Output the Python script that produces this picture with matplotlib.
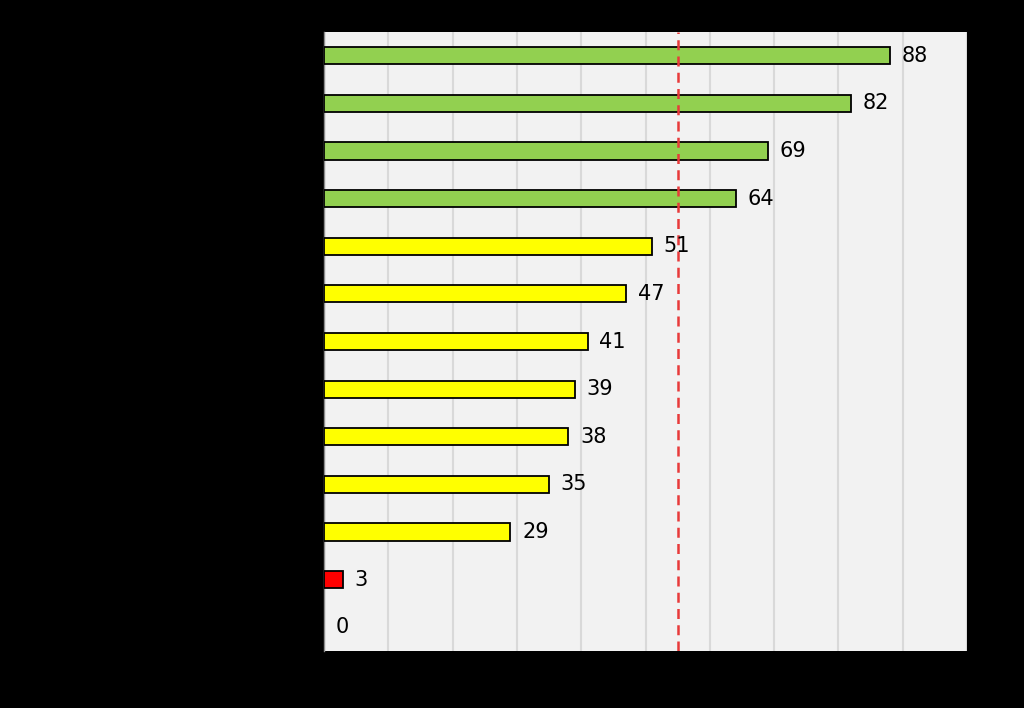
import matplotlib.pyplot as plt
import numpy as np

values = [88, 82, 69, 64, 51, 47, 41, 39, 38, 35, 29, 3, 0]
colors = ['#92d050'] * 4 + ['#ffff00'] * 7 + ['#ff0000'] * 2
threshold = 55

fig = plt.figure(figsize=(10.24, 7.08), dpi=100)
fig.patch.set_facecolor('black')
ax = fig.add_axes([324 / 1024, 1 - 651 / 708, (967 - 324) / 1024, (651 - 32) / 708])
ax.set_facecolor('#f2f2f2')

y = np.arange(len(values))
widths = [1.3 if v > 0 else 0 for v in values]
ax.barh(y, values, height=0.36, color=colors, edgecolor='black', linewidth=widths, zorder=3)
for yi, v in zip(y, values):
    ax.text(v + 1.8, yi, str(v), va='center', ha='left', fontsize=15, color='black', zorder=5)

ax.axvline(threshold, color='#e83a3a', linestyle=(0, (4, 2.5)), linewidth=1.8, zorder=4)

ax.set_xlim(0, 100)
ax.set_ylim(len(values) - 0.5, -0.5)
ax.set_xticks(np.arange(0, 101, 10))
ax.grid(axis='x', color='#d9d9d9', linewidth=1.5, zorder=0)
ax.tick_params(left=False, bottom=False, labelleft=False, labelbottom=False)
for s in ax.spines.values():
    s.set_visible(False)
ax.spines['left'].set_visible(True)
ax.spines['left'].set_color('#8c8c8c')
ax.spines['left'].set_linewidth(1)

fig.savefig('out.png', dpi=100, facecolor=fig.get_facecolor())
